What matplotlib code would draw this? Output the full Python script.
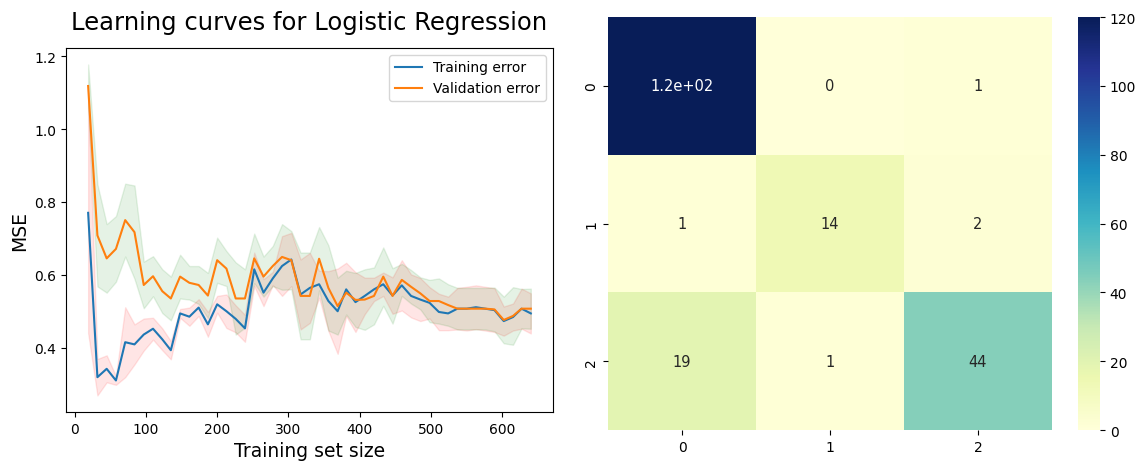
import numpy as np
import matplotlib
matplotlib.use('Agg')
import matplotlib.pyplot as plt
import seaborn as sns

# training set sizes
train_sizes = [19, 32, 45, 58, 71, 84, 97, 110, 123, 135,
               148, 161, 174, 187, 200, 213, 226, 239, 252, 265,
               278, 291, 304, 317, 330, 343, 356, 369, 381, 394,
               407, 420, 433, 446, 459, 472, 485, 498, 511, 524,
               537, 550, 563, 576, 589, 602, 615, 627, 640]

# mean training error (MSE)
train_mean = [0.770, 0.319, 0.342, 0.310, 0.415, 0.409, 0.436, 0.452, 0.423, 0.393,
              0.494, 0.485, 0.510, 0.464, 0.519, 0.500, 0.479, 0.453, 0.615, 0.551,
              0.590, 0.624, 0.642, 0.546, 0.564, 0.574, 0.528, 0.500, 0.560, 0.525,
              0.542, 0.560, 0.574, 0.543, 0.571, 0.542, 0.532, 0.523, 0.498, 0.494,
              0.507, 0.507, 0.511, 0.507, 0.503, 0.473, 0.484, 0.507, 0.494]
train_std = [0.330, 0.050, 0.037, 0.012, 0.096, 0.055, 0.044, 0.030, 0.030, 0.025,
             0.012, 0.025, 0.023, 0.034, 0.023, 0.046, 0.037, 0.037, 0.046, 0.037,
             0.018, 0.082, 0.073, 0.096, 0.096, 0.037, 0.082, 0.117, 0.073, 0.082,
             0.050, 0.032, 0.032, 0.050, 0.069, 0.059, 0.059, 0.043, 0.050, 0.046,
             0.057, 0.060, 0.060, 0.060, 0.060, 0.040, 0.037, 0.055, 0.055]

# mean validation error (MSE)
val_mean = [1.118, 0.708, 0.645, 0.671, 0.750, 0.717, 0.572, 0.596, 0.555, 0.535,
            0.595, 0.578, 0.572, 0.543, 0.640, 0.617, 0.535, 0.535, 0.645, 0.595,
            0.624, 0.649, 0.640, 0.542, 0.542, 0.644, 0.564, 0.514, 0.551, 0.531,
            0.532, 0.542, 0.595, 0.542, 0.586, 0.567, 0.549, 0.528, 0.528, 0.517,
            0.507, 0.507, 0.507, 0.507, 0.505, 0.476, 0.487, 0.507, 0.507]
val_std = [0.059, 0.140, 0.094, 0.090, 0.100, 0.128, 0.064, 0.055, 0.060, 0.060,
           0.060, 0.046, 0.052, 0.062, 0.062, 0.048, 0.099, 0.080, 0.068, 0.055,
           0.055, 0.090, 0.080, 0.119, 0.119, 0.087, 0.117, 0.078, 0.060, 0.074,
           0.083, 0.078, 0.080, 0.076, 0.044, 0.046, 0.044, 0.058, 0.062, 0.057,
           0.057, 0.057, 0.057, 0.057, 0.060, 0.064, 0.079, 0.054, 0.055]

# confusion matrix
conf_mat = [[120, 0, 1],
            [1, 14, 2],
            [19, 1, 44]]

x = np.array(train_sizes)
tm, ts = np.array(train_mean), np.array(train_std)
vm, vs = np.array(val_mean), np.array(val_std)

fig = plt.figure(figsize=(11.42, 4.64), dpi=100)

# learning curves
ax1 = fig.add_axes([0.0578, 0.110, 0.4264, 0.7845])
ax1.plot(x, tm, label='Training error')
ax1.plot(x, vm, label='Validation error')
ax1.fill_between(x, tm - ts, tm + ts, alpha=0.1, color='r')
ax1.fill_between(x, vm - vs, vm + vs, alpha=0.1, color='g')
ax1.set_ylabel('MSE', fontsize=13.5)
ax1.set_xlabel('Training set size', fontsize=13.5)
ax1.set_title('Learning curves for Logistic Regression', fontsize=17.5, y=1.03)
ax1.legend()

# confusion matrix heatmap
ax2 = fig.add_axes([0.5324, 0.0711, 0.3888, 0.890])
cax = fig.add_axes([0.944, 0.0711, 0.0193, 0.890])
sns.heatmap(np.array(conf_mat), annot=True, cmap='YlGnBu', ax=ax2, cbar_ax=cax,
            annot_kws={'fontsize': 10.5})

fig.savefig('out.png', dpi=100)
